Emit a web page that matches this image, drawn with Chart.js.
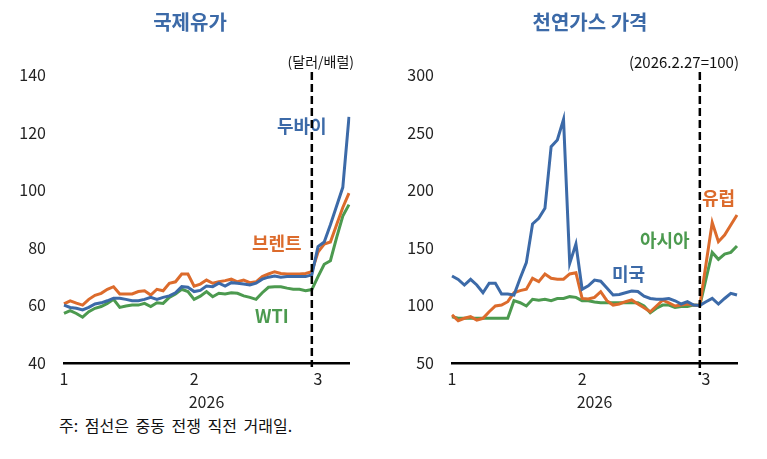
<!DOCTYPE html>
<html>
<head>
<meta charset="utf-8">
<script src="https://cdn.jsdelivr.net/npm/chart.js@4"></script>
<style>
  body { margin: 0; background: #fff; }
  #wrap { position: relative; width: 767px; height: 459px; }
  .box { position: absolute; top: 0; height: 412px; }
  #left { left: 0; width: 380px; }
  #right { left: 388px; width: 379px; }
  #note { position: absolute; left: 59px; top: 413px; font: 16px 'Noto Sans CJK KR'; color: #111; word-spacing: 3px; }
</style>
</head>
<body>
<div id="wrap">
  <div class="box" id="left"><canvas id="oil"></canvas></div>
  <div class="box" id="right"><canvas id="gas"></canvas></div>
  <div id="note">주: 점선은 중동 전쟁 직전 거래일.</div>
</div>
<script>
// trading days, 2026
const dates = [
  '1/2', '1/5', '1/6', '1/7', '1/8', '1/9', '1/12', '1/13', '1/14', '1/15', '1/16',
  '1/19', '1/20', '1/21', '1/22', '1/23', '1/26', '1/27', '1/28', '1/29', '1/30',
  '2/2', '2/3', '2/4', '2/5', '2/6', '2/9', '2/10', '2/11', '2/12', '2/13',
  '2/16', '2/17', '2/18', '2/19', '2/20', '2/23', '2/24', '2/25', '2/26', '2/27',
  '3/2', '3/3', '3/4', '3/5', '3/6', '3/9'
];
const warDay = '2/27';

// oil, $/bbl
const dubai = [60.1, 59.3, 59.0, 58.4, 59.3, 60.5, 60.9, 61.6, 62.5, 62.5, 62.1, 61.6, 61.6, 62.1, 62.8, 62.1,
  62.8, 63.3, 64.4, 66.5, 66.3, 64.8, 65.2, 66.7, 66.5, 67.7, 66.7, 67.9, 67.7, 67.4, 67.1, 67.7,
  69.1, 69.8, 70.2, 69.8, 70.0, 70.0, 70.0, 70.0, 70.6, 80.4, 82.0, 88.0, 94.5, 101.0, 125.5];
const brent = [60.5, 61.6, 60.8, 60.1, 62.1, 63.5, 64.2, 65.6, 66.5, 64.0, 64.0, 64.0, 64.8, 65.1, 63.6, 65.6,
  65.1, 67.7, 68.2, 70.9, 70.9, 66.7, 67.4, 68.8, 67.7, 68.2, 68.6, 69.1, 68.2, 68.8, 67.9, 68.2,
  70.0, 70.9, 71.7, 71.1, 70.9, 70.9, 70.9, 71.1, 71.7, 78.5, 81.3, 82.0, 88.0, 94.0, 99.0];
const wti = [57.2, 58.2, 57.2, 55.9, 57.8, 59.0, 59.6, 60.7, 62.1, 59.3, 59.8, 60.1, 60.1, 60.7, 59.6, 60.9,
  60.7, 62.8, 64.0, 65.6, 64.8, 62.1, 63.2, 64.8, 63.0, 64.2, 64.0, 64.4, 64.2, 63.3, 62.8, 62.1,
  64.4, 66.3, 66.5, 66.5, 66.0, 65.6, 65.6, 65.1, 65.5, 70.0, 74.3, 75.5, 83.5, 91.0, 95.0];

// gas, 2026.2.27 = 100
const usa = [125.5, 122.6, 117.7, 122.6, 117.7, 111.0, 119.2, 119.2, 109.9, 109.9, 109.0, 123.5, 137.1, 170.7, 175.6, 184.3,
  237.8, 243.6, 261.5, 136.5, 153.3, 114.0, 117.0, 122.0, 121.0, 115.0, 109.0, 109.5, 111.0, 112.5, 112.0, 108.0,
  106.0, 105.3, 105.3, 106.0, 104.0, 101.2, 103.2, 100.3, 100.0, 103.2, 106.1, 101.2, 106.0, 110.5, 109.0];
const europe = [91.7, 86.7, 88.8, 90.2, 87.3, 88.8, 94.5, 99.5, 100.3, 103.2, 111.0, 112.8, 114.0, 123.5, 120.6, 127.3,
  123.5, 122.7, 122.7, 127.3, 128.4, 106.1, 105.5, 107.0, 111.9, 104.1, 100.3, 101.2, 103.2, 104.7, 101.2, 98.0,
  94.5, 99.5, 104.5, 102.3, 99.5, 100.3, 101.2, 100.3, 100.0, 136.0, 172.0, 155.3, 161.1, 169.8, 178.5];
const asia = [90.2, 88.8, 88.8, 88.8, 88.8, 88.8, 88.8, 88.8, 88.8, 88.8, 104.1, 102.3, 99.5, 105.3, 104.5, 105.3,
  104.1, 105.9, 106.0, 107.6, 107.0, 104.1, 104.1, 103.0, 102.4, 102.4, 102.4, 102.4, 102.4, 102.4, 102.4, 99.5,
  93.7, 97.5, 100.3, 100.3, 98.3, 99.0, 99.0, 100.3, 100.0, 123.0, 146.0, 140.0, 144.5, 146.0, 151.5];

const BLUE = '#3c6aa8', ORANGE = '#dc6b2c', GREEN = '#4c9a4f';
const FONT = "'Noto Sans CJK KR'";

const overlay = {
  id: 'overlay',
  afterDatasetsDraw(chart, args, opts) {
    const { ctx, chartArea, scales } = chart;
    ctx.save();
    opts.texts.forEach(t => {
      ctx.font = t.font;
      ctx.fillStyle = t.color;
      ctx.textAlign = t.align || 'left';
      ctx.textBaseline = 'middle';
      ctx.fillText(t.text, t.x, t.y);
    });
    const px = scales.x.getPixelForValue(dates.indexOf(warDay));
    ctx.strokeStyle = '#000';
    ctx.lineWidth = 2.5;
    ctx.setLineDash([8, 4]);
    ctx.beginPath();
    ctx.moveTo(px, chartArea.top - 3);
    ctx.lineTo(px, chartArea.bottom + opts.below);
    ctx.stroke();
    ctx.restore();
  }
};

function line(data, color) {
  return { data, borderColor: color, borderWidth: 3, pointRadius: 0, tension: 0, fill: false };
}

function makeChart(id, sets, yMin, yMax, yStep, yWidth, padRight, texts, below) {
  return new Chart(document.getElementById(id), {
    type: 'line',
    data: { labels: dates, datasets: sets },
    plugins: [overlay],
    options: {
      responsive: true,
      maintainAspectRatio: false,
      animation: false,
      layout: { padding: { top: 75, left: 0, right: padRight, bottom: 0 } },
      plugins: {
        legend: { display: false },
        tooltip: { enabled: false },
        overlay: { texts, below }
      },
      scales: {
        x: {
          offset: false,
          grid: { display: false, drawTicks: false },
          border: { display: true, color: '#000', width: 2.5 },
          ticks: {
            autoSkip: false, maxRotation: 0, padding: 6,
            color: '#222', font: { family: FONT, size: 16 },
            callback: function(v, i) {
              const m = dates[i].split('/')[0];
              if (i === 0 || dates[i - 1].split('/')[0] !== m) return m;
              return '';
            }
          },
          title: { display: true, text: '2026', color: '#222', font: { family: FONT, size: 16 }, padding: 0 },
          afterFit: s => { s.height = 49; }
        },
        y: {
          min: yMin, max: yMax,
          grid: { display: false, drawTicks: false },
          border: { display: false },
          ticks: { stepSize: yStep, padding: 18, color: '#222', font: { family: FONT, size: 16 } },
          afterFit: s => { s.width = yWidth; }
        }
      }
    }
  });
}

const lab = (text, x, y, color) => ({ text, x, y, color, font: 'bold 18px ' + FONT });

makeChart('oil', [line(dubai, BLUE), line(brent, ORANGE), line(wti, GREEN)], 40, 140, 20, 64, 31, [
  { text: '국제유가', x: 190, y: 22, color: BLUE, align: 'center', font: 'bold 20px ' + FONT },
  { text: '(달러/배럴)', x: 354, y: 62, color: '#111', align: 'right', font: '14px ' + FONT },
  lab('두바이', 277, 126, BLUE),
  lab('브렌트', 252, 243, ORANGE),
  lab('WTI', 255, 316, GREEN)
], 4);

makeChart('gas', [line(usa, BLUE), line(europe, ORANGE), line(asia, GREEN)], 50, 300, 50, 64, 30, [
  { text: '천연가스 가격', x: 202, y: 22, color: BLUE, align: 'center', font: 'bold 20px ' + FONT },
  { text: '(2026.2.27=100)', x: 351, y: 62, color: '#111', align: 'right', font: '15px ' + FONT },
  lab('유럽', 314, 198, ORANGE),
  lab('아시아', 252, 240, GREEN),
  lab('미국', 224, 274, BLUE)
], 12);
</script>
</body>
</html>
